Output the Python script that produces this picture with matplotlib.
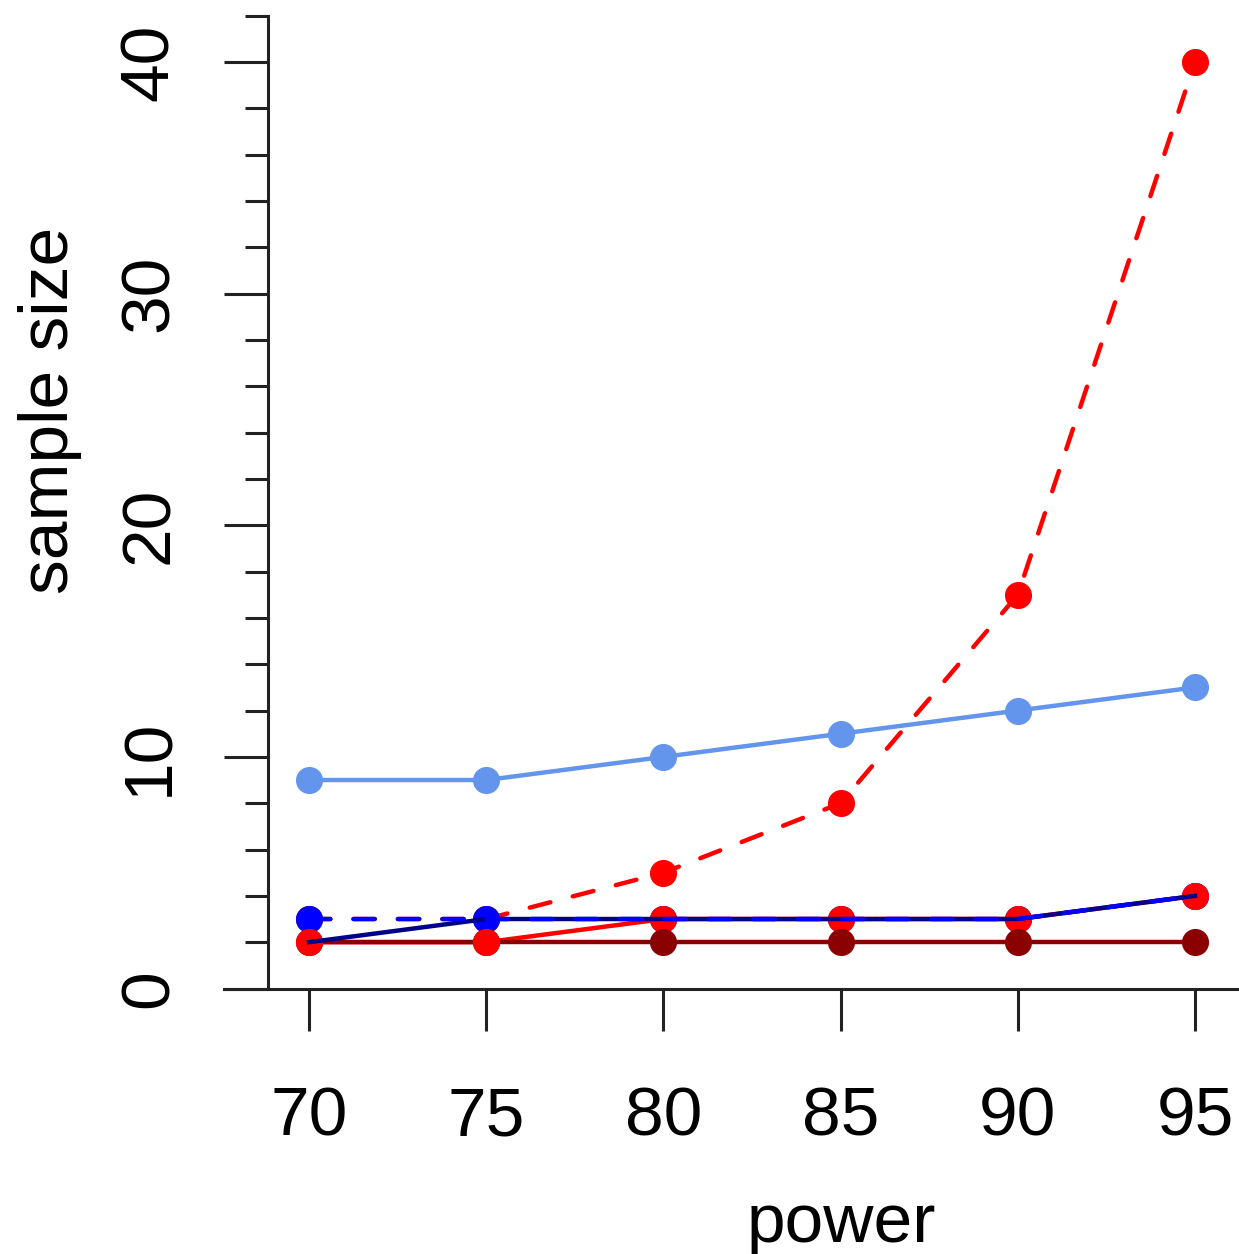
import matplotlib
matplotlib.use("Agg")
import matplotlib.pyplot as plt
from matplotlib.ticker import MultipleLocator

plt.rcParams["font.family"] = ["Liberation Sans", "DejaVu Sans"]

power = [70, 75, 80, 85, 90, 95]
light_blue = [9, 9, 10, 11, 12, 13]
red_dashed = [3, 3, 5, 8, 17, 40]
blue_dashed = [3, 3, 3, 3, 3, 4]
navy_solid = [2, 3, 3, 3, 3, 4]
red_solid = [2, 2, 3, 3, 3, 4]
dark_red = [2, 2, 2, 2, 2, 2]

W, H = 1239, 1254
fig = plt.figure(figsize=(W / 100, H / 100), dpi=100)
# axes box in pixel terms
left_px, right_px, top_px, bot_px = 224, 1241, 0, 988.5
ax = fig.add_axes([left_px / W, (H - bot_px) / H,
                   (right_px - left_px) / W, (bot_px - top_px) / H])

x_per_px = 5 / 177.2
y_per_px = 1 / 23.15
ax.set_xlim(70 - (309 - left_px) * x_per_px, 70 + (right_px - 309) * x_per_px)
ax.set_ylim(0, (988 - top_px) * y_per_px)

ms = 18.5
lw = 3.2
dash = (0, (4.8, 5.2))
dk = dict(dash_capstyle="round")

# lines and points, stacked like the original drawing order
ax.plot(power, red_dashed, color="#FF0000", lw=lw, ls=dash, marker="o", ms=ms, zorder=2, **dk)
ax.plot(power, light_blue, color="#6495ED", lw=lw, marker="o", ms=ms, zorder=2)
ax.plot(power, blue_dashed, color="#0000FF", lw=0, marker="o", ms=ms, zorder=2.5)
ax.plot(power, red_solid, color="#FF0000", lw=lw, zorder=2.6)
ax.plot(power[2:], red_solid[2:], color="#FF0000", lw=0, marker="o", ms=ms, zorder=2.7)
ax.plot(power, dark_red, color="#8B0000", lw=lw, marker="o", ms=ms, zorder=2.8)
ax.plot(power[:2], red_solid[:2], color="#FF0000", lw=0, marker="o", ms=ms, zorder=2.9)
ax.plot(power, navy_solid, color="#00008B", lw=lw, zorder=3)
ax.plot(power, blue_dashed, color="#0000FF", lw=lw, ls=dash, zorder=3.1, **dk)

axis_col = "#222222"
for s in ["top", "right"]:
    ax.spines[s].set_visible(False)
ax.spines["left"].set_position(("data", 70 - (309 - 268) * x_per_px))
ax.spines["left"].set_bounds(0, 42)
ax.spines["left"].set_linewidth(2.2)
ax.spines["left"].set_color(axis_col)
ax.spines["bottom"].set_linewidth(2.2)
ax.spines["bottom"].set_color(axis_col)

ax.set_xticks(power)
ax.set_xticklabels([str(p) for p in power])
ax.yaxis.set_major_locator(MultipleLocator(10))
ax.yaxis.set_minor_locator(MultipleLocator(2))
ax.set_yticks([0, 10, 20, 30, 40])
ax.set_yticks(list(range(0, 43, 2)), minor=True)

ax.tick_params(axis="x", length=30, width=2.2, color=axis_col, pad=40, labelsize=50)
ax.tick_params(axis="y", which="major", length=32, width=2.2, color=axis_col,
               pad=30, labelsize=50, labelrotation=90)
ax.tick_params(axis="y", which="minor", length=16.5, width=2.2, color=axis_col)
for lab in ax.get_yticklabels():
    lab.set_va("center")

fig.text(841 / W, 1 - 1242 / H, "power", fontsize=50, ha="center", va="baseline")
fig.text(50 / W, 1 - 410 / H, "sample size", fontsize=50, ha="center", va="center",
         rotation=90)

fig.savefig("out.png", dpi=100)
